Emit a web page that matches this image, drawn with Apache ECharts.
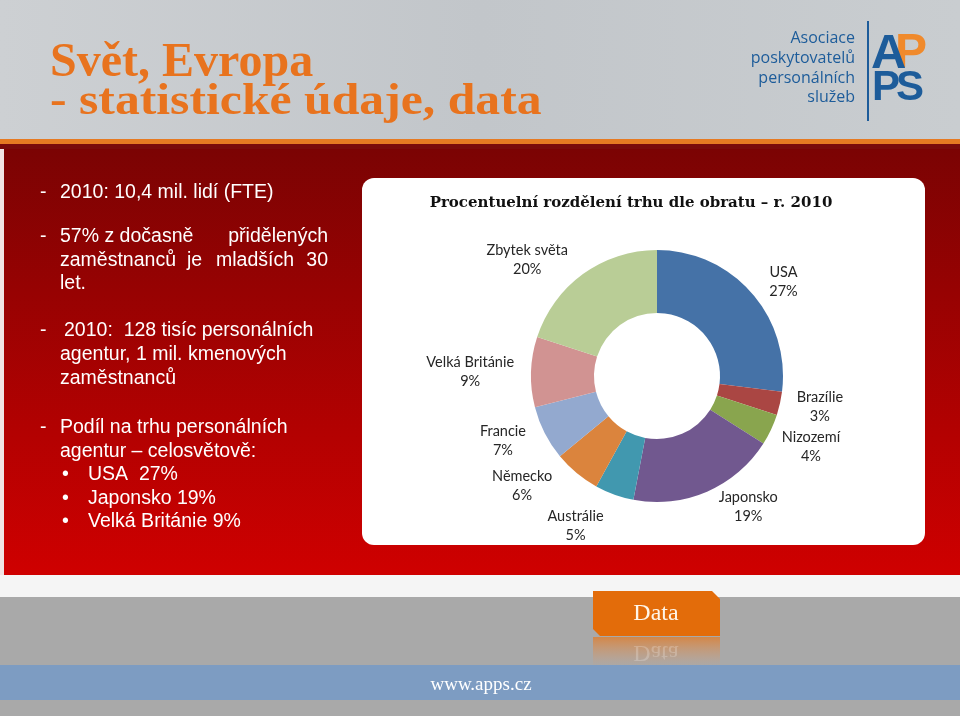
<!DOCTYPE html>
<html>
<head>
<meta charset="utf-8">
<script src="https://cdn.jsdelivr.net/npm/echarts@6/dist/echarts.min.js"></script>
<style>
html,body{margin:0;padding:0;background:#fff;}
#c{width:960px;height:716px;}
</style>
</head>
<body>
<div id="c"></div>
<script>
// ---- data ----
const countries = ['USA', 'Brazílie', 'Nizozemí', 'Japonsko', 'Austrálie', 'Německo', 'Francie', 'Velká Británie', 'Zbytek světa'];
const shares = [27, 3, 4, 19, 5, 6, 7, 9, 20];
const sliceColors = ['#4572A7', '#AA4643', '#89A54E', '#71588F', '#4198AF', '#DB843D', '#93A9CF', '#D19392', '#B9CD96'];
const chartTitle = 'Procentuelní rozdělení trhu dle obratu – r. 2010';

const chart = echarts.init(document.getElementById('c'), null, {renderer: 'canvas'});

const WHITE_TXT = {fill: '#ffffff', font: '19.5px "Liberation Sans", Arial, sans-serif', textVerticalAlign: 'middle'};
function t(x, y, text, extra) {
  return {type: 'text', x: x, y: y, style: Object.assign({text: text}, WHITE_TXT, extra || {})};
}
const LOGO_BLUE = '#1d5c9a';

const graphics = [
  // header
  {type: 'rect', shape: {x: 0, y: 0, width: 960, height: 140},
   style: {fill: new echarts.graphic.LinearGradient(0, 0, 1, 0, [{offset: 0, color: '#cdd0d3'}, {offset: 0.5, color: '#c2c6ca'}, {offset: 1, color: '#c9cdd0'}])}},
  {type: 'rect', shape: {x: 0, y: 139, width: 960, height: 5}, style: {fill: '#e67a22'}},
  {type: 'rect', shape: {x: 0, y: 144, width: 960, height: 6}, style: {fill: '#7a0b0b'}},
  // red panel
  {type: 'rect', shape: {x: 0, y: 149, width: 960, height: 426},
   style: {fill: new echarts.graphic.LinearGradient(0, 0, 0, 1, [{offset: 0, color: '#7b0303'}, {offset: 1, color: '#cf0000'}])}},
  {type: 'rect', shape: {x: 0, y: 149, width: 4, height: 426}, style: {fill: '#f1e4e4'}},
  // lower area
  {type: 'rect', shape: {x: 0, y: 575, width: 960, height: 23}, style: {fill: '#f5f5f5'}},
  {type: 'rect', shape: {x: 0, y: 597, width: 960, height: 119}, style: {fill: '#a9a9a9'}},
  {type: 'rect', shape: {x: 0, y: 665, width: 960, height: 35}, style: {fill: '#7d9cc2'}},
  // Data tab + reflection
  {type: 'rect', shape: {x: 593, y: 637, width: 127, height: 28},
   style: {fill: new echarts.graphic.LinearGradient(0, 0, 0, 1, [{offset: 0, color: 'rgba(230,120,30,0.7)'}, {offset: 1, color: 'rgba(230,150,90,0.05)'}])}},
  {type: 'text', x: 656, y: 640, scaleY: -1, style: {text: 'Data', fill: 'rgba(255,255,255,0.22)', font: '24px "Liberation Serif", serif', textAlign: 'center', textVerticalAlign: 'bottom'}},
  {type: 'polygon', shape: {points: [[593, 591], [712, 591], [720, 599], [720, 636], [600, 636], [593, 629]]}, style: {fill: '#e36c0a'}},
  {type: 'text', x: 656, y: 614, style: {text: 'Data', fill: '#fff5e8', font: '24px "Liberation Serif", serif', textAlign: 'center', textVerticalAlign: 'middle'}},
  {type: 'text', x: 481, y: 685, style: {text: 'www.apps.cz', fill: '#ffffff', font: '19px "Liberation Serif", serif', textAlign: 'center', textVerticalAlign: 'middle'}},
  // header title
  {type: 'text', x: 50, y: 64, style: {text: 'Svět, Evropa', fill: '#e8731e', font: 'bold 48px "Liberation Serif", serif', textVerticalAlign: 'middle'}},
  {type: 'text', x: 50, y: 103, scaleX: 1.13, style: {text: '- statistické údaje, data', fill: '#e8731e', font: 'bold 44px "Liberation Serif", serif', textVerticalAlign: 'middle'}},
  // logo
  {type: 'text', x: 855, y: 38, style: {text: 'Asociace', fill: LOGO_BLUE, font: '16px "Open Sans", sans-serif', textAlign: 'right', textVerticalAlign: 'middle'}},
  {type: 'text', x: 855, y: 58, style: {text: 'poskytovatelů', fill: LOGO_BLUE, font: '16px "Open Sans", sans-serif', textAlign: 'right', textVerticalAlign: 'middle'}},
  {type: 'text', x: 855, y: 78, style: {text: 'personálních', fill: LOGO_BLUE, font: '16px "Open Sans", sans-serif', textAlign: 'right', textVerticalAlign: 'middle'}},
  {type: 'text', x: 855, y: 97, style: {text: 'služeb', fill: LOGO_BLUE, font: '16px "Open Sans", sans-serif', textAlign: 'right', textVerticalAlign: 'middle'}},
  {type: 'rect', shape: {x: 867, y: 21, width: 2, height: 100}, style: {fill: LOGO_BLUE}},
  {type: 'text', x: 895, y: 54, style: {text: 'P', fill: '#f08a2c', font: 'bold 48px "Liberation Sans", sans-serif', textVerticalAlign: 'middle'}},
  {type: 'text', x: 871, y: 54, style: {text: 'A', fill: LOGO_BLUE, font: 'bold 49px "Liberation Sans", sans-serif', textVerticalAlign: 'middle'}},
  {type: 'text', x: 872, y: 88, style: {text: 'P', fill: LOGO_BLUE, font: 'bold 42px "Liberation Sans", sans-serif', textVerticalAlign: 'middle'}},
  {type: 'text', x: 896, y: 88, style: {text: 'S', fill: LOGO_BLUE, font: 'bold 42px "Liberation Sans", sans-serif', textVerticalAlign: 'middle'}},
  // left text
  t(40, 193, '-'), t(60, 193, '2010: 10,4 mil. lidí (FTE)'),
  t(40, 237, '-'), t(60, 237, '57% z dočasně'), t(328, 237, 'přidělených', {textAlign: 'right'}),
  t(60, 261, 'zaměstnanců'), t(187, 261, 'je'), t(216, 261, 'mladších'), t(328, 261, '30', {textAlign: 'right'}),
  t(60, 284, 'let.'),
  t(40, 331, '-'), t(64, 331, '2010:  128 tisíc personálních'),
  t(60, 355, 'agentur, 1 mil. kmenových'),
  t(60, 379, 'zaměstnanců'),
  t(40, 428, '-'), t(60, 428, 'Podíl na trhu personálních'),
  t(60, 452, 'agentur – celosvětově:'),
  t(62, 475, '•'), t(88, 475, 'USA  27%'),
  t(62, 499, '•'), t(88, 499, 'Japonsko 19%'),
  t(62, 522, '•'), t(88, 522, 'Velká Británie 9%'),
  // chart card
  {type: 'rect', shape: {x: 362, y: 178, width: 563, height: 367, r: 12}, style: {fill: '#ffffff'}}
];

const option = {
  animation: false,
  color: sliceColors,
  title: {
    text: chartTitle,
    left: 626,
    top: 191,
    textAlign: 'center',
    textStyle: {fontFamily: '"DejaVu Serif", serif', fontWeight: 'bold', fontSize: 15, color: '#111111'}
  },
  graphic: {elements: graphics},
  series: [{
    type: 'pie',
    center: [657, 376],
    radius: [63, 126],
    startAngle: 90,
    clockwise: true,
    avoidLabelOverlap: true,
    data: countries.map((c, i) => ({name: c, value: shares[i]})),
    itemStyle: {borderWidth: 0},
    label: {
      show: true,
      position: 'outside',
      formatter: p => '{t|' + p.name + '}\n{t|' + p.value + '%}',
      color: '#262626',
      fontFamily: 'Lato, "Open Sans", sans-serif',
      fontSize: 14.5,
      lineHeight: 19,
      rich: {t: {align: 'center', fontFamily: 'Lato, sans-serif', fontSize: 14.5, lineHeight: 19, color: '#262626'}}
    },
    labelLine: {show: false, length: 17, length2: 0},
    emphasis: {disabled: true}
  }]
};
chart.setOption(option);
</script>
</body>
</html>
